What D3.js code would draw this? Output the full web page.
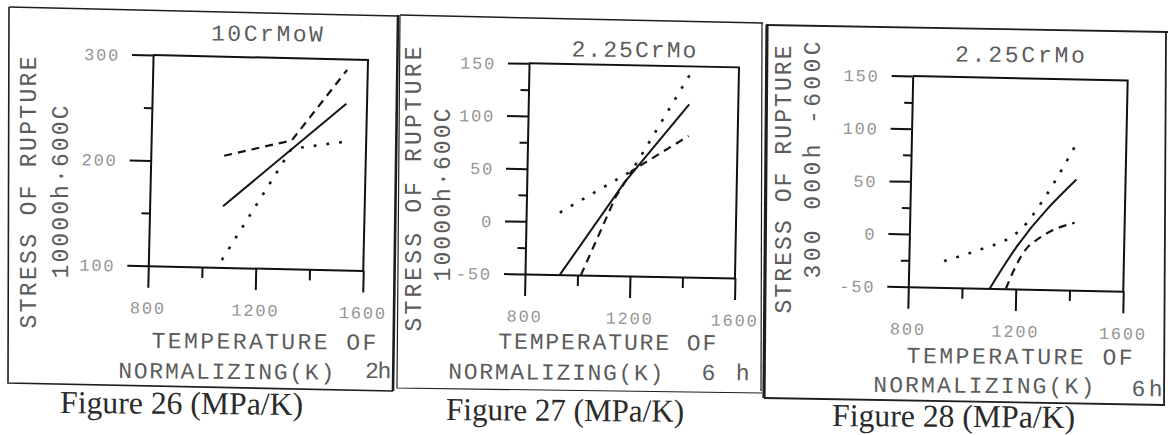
<!DOCTYPE html>
<html>
<head>
<meta charset="utf-8">
<script src="https://cdn.jsdelivr.net/npm/d3@7"></script>
<style>
  html, body { margin: 0; padding: 0; background: #fff; }
  svg { display: block; }
</style>
</head>
<body>
<svg id="chart" width="1168" height="435"></svg>
<script>
// Stress of rupture (MPa) against temperature of normalizing (K)

const xTickLabels = [800, 1200, 1600];
const xMinorTicks = [1000, 1400];

// Figure 26: 10CrMoW, 10000 h at 600 C, normalized 2 h
const fig26YTicks = [100, 200, 300];
const fig26YMinor = [150, 250];
const fig26SolidT = [1073, 1523];
const fig26SolidS = [158, 258];
const fig26DashT = [1073, 1323, 1523];
const fig26DashS = [206, 222, 290];
const fig26DotT = [1073, 1323, 1523];
const fig26DotS = [107, 214, 222];

// Figure 27: 2.25CrMo, 10000 h at 600 C, normalized 6 h
const fig27YTicks = [-50, 0, 50, 100, 150];
const fig27YMinor = [-25, 25, 75, 125];
const fig27SolidT = [933, 1173, 1413];
const fig27SolidS = [-50, 39, 114];
const fig27DashT = [1013, 1140, 1200, 1413];
const fig27DashS = [-50, 25, 50, 84];
const fig27DotT = [928, 1200, 1413];
const fig27DotS = [9, 50, 142];

// Figure 28: 2.25CrMo, 300 000 h at 600 C, normalized 6 h
const fig28YTicks = [-50, 0, 50, 100, 150];
const fig28YMinor = [-25, 25, 75, 125];
const fig28SolidT = [1103, 1201, 1417];
const fig28SolidS = [-50, -9.5, 55];
const fig28DashT = [1163, 1190, 1238, 1274, 1322, 1414];
const fig28DashS = [-50, -33, -11, -3, 5, 14];
const fig28DotT = [931, 1078, 1164, 1212, 1295, 1414];
const fig28DotS = [-25, -12, -3, 6, 35, 89];

// Texts
const figTitles = ["10CrMoW", "2.25CrMo", "2.25CrMo"];
const yTitleTop = "STRESS OF RUPTURE";
const yTitleSub = ["10000h\u00B7600C", "10000h\u00B7600C", "300 000h -600C"];
const xTitleTop = "TEMPERATURE OF";
const xTitleSub = "NORMALIZING(K)";
const durations = ["2h", "6 h", "6h"];
const captions = ["Figure 26 (MPa/K)", "Figure 27 (MPa/K)", "Figure 28 (MPa/K)"];

const mono = "'Liberation Mono', 'DejaVu Sans Mono', monospace";
const serif = "'Liberation Serif', 'DejaVu Serif', serif";
const textGrey = "#5c5c5c";

const svg = d3.select("#chart");

// Box frames around each figure (page pixels, slightly skewed sheet)
const frames = [
  { pts: [[9, 7], [397, 16]], w: 1.6 },
  { pts: [[9, 7], [8, 383], [393, 391]], w: 1.6 },
  { pts: [[398, 15], [393, 391]], w: 2.6 },
  { pts: [[400, 15], [763, 23]], w: 1.5 },
  { pts: [[400, 15], [397, 388], [762, 393]], w: 1.2 },
  { pts: [[762, 23], [761, 391]], w: 1.2 },
  { pts: [[766, 25], [1168, 32]], w: 1.8 },
  { pts: [[767, 25], [764, 398]], w: 3.2 },
  { pts: [[764, 398], [1165, 405]], w: 1.8 },
  { pts: [[1166, 32], [1164, 405]], w: 1.8 }
];
frames.forEach(f => {
  svg.append("path")
    .attr("d", d3.line()(f.pts))
    .attr("fill", "none")
    .attr("stroke", "#1e1e1e")
    .attr("stroke-width", f.w);
});

const lineStyles = {
  solid:  { dash: null,     w: 2.0 },
  dashed: { dash: "8,6",    w: 2.2 },
  dotted: { dash: "2.8,10", w: 2.6 }
};

const panels = [
  {
    origin: [148.3, 265.7], angle: 1.3, width: 215, height: 210.7,
    yDomain: [100, 300], yTicks: fig26YTicks, yMinor: fig26YMinor, curve: d3.curveLinear,
    series: [
      { style: "solid",  pts: d3.zip(fig26SolidT, fig26SolidS) },
      { style: "dashed", pts: d3.zip(fig26DashT, fig26DashS) },
      { style: "dotted", pts: d3.zip(fig26DotT, fig26DotS) }
    ],
    text: { title: [267, 33, 109], yt1: [28, 192.5, 269], yt2: [60, 192, 170],
            xt1: [151.7, 340, 221.6], xt2: [118.3, 370, 213], dur: [365, 370, 23.3], cap: [60, 413, 243] }
  },
  {
    origin: [525, 274], angle: 1.1, width: 210, height: 210.7,
    yDomain: [-50, 150], yTicks: fig27YTicks, yMinor: fig27YMinor, curve: d3.curveLinear,
    series: [
      { style: "solid",  pts: d3.zip(fig27SolidT, fig27SolidS) },
      { style: "dashed", pts: d3.zip(fig27DashT, fig27DashS) },
      { style: "dotted", pts: d3.zip(fig27DotT, fig27DotS) }
    ],
    text: { title: [634, 49, 122], yt1: [413.3, 189, 282], yt2: [441.7, 195, 170],
            xt1: [498.3, 340.7, 215], xt2: [448.3, 370.8, 212], dur: [701.7, 372, 45], cap: [446, 420, 238] }
  },
  {
    origin: [908.3, 286.7], angle: 1.2, width: 215, height: 210.7,
    yDomain: [-50, 150], yTicks: fig28YTicks, yMinor: fig28YMinor, curve: d3.curveMonotoneX,
    series: [
      { style: "solid",  pts: d3.zip(fig28SolidT, fig28SolidS) },
      { style: "dashed", pts: d3.zip(fig28DashT, fig28DashS) },
      { style: "dotted", pts: d3.zip(fig28DotT, fig28DotS) }
    ],
    text: { title: [1020, 54, 127], yt1: [783.3, 179.5, 265], yt2: [811.7, 160, 234],
            xt1: [906.7, 355, 223], xt2: [873.3, 384, 218], dur: [1131.7, 388, 28], cap: [832, 426, 243] }
  }
];

function styleAxis(sel) {
  sel.attr("font-family", mono).attr("font-size", 17);
  sel.selectAll("path.domain").attr("stroke", "#111").attr("stroke-width", 2);
  sel.selectAll(".tick line").attr("stroke", "#111").attr("stroke-width", 2);
  sel.selectAll(".tick text").attr("fill", "#959595").attr("letter-spacing", 1.8);
}

function hText(str, x, y, span, opts = {}) {
  return svg.append("text")
    .attr("x", x).attr("y", y)
    .attr("dy", opts.dy || "0.35em")
    .attr("text-anchor", opts.anchor || "start")
    .attr("font-family", opts.family || mono)
    .attr("font-size", opts.size || 23)
    .attr("fill", opts.fill || textGrey)
    .attr("textLength", span)
    .attr("lengthAdjust", opts.adjust || "spacing")
    .attr("transform", `rotate(0.45, ${x}, ${y})`)
    .text(str);
}

function vText(str, cx, cy, span) {
  svg.append("text")
    .attr("transform", `translate(${cx},${cy}) rotate(-90)`)
    .attr("dy", "0.35em")
    .attr("text-anchor", "middle")
    .attr("font-family", mono)
    .attr("font-size", 23)
    .attr("fill", textGrey)
    .attr("textLength", span)
    .attr("lengthAdjust", "spacing")
    .text(str);
}

panels.forEach((p, i) => {
  const g = svg.append("g")
    .attr("transform", `translate(${p.origin[0]},${p.origin[1]}) rotate(${p.angle})`);

  const x = d3.scaleLinear().domain([800, 1600]).range([0, p.width]);
  const y = d3.scaleLinear().domain(p.yDomain).range([0, -p.height]);

  // Plot box: top edge and right edge
  g.append("path")
    .attr("d", `M${x(800)},${y(p.yDomain[1])}H${x(1600)}V${y(p.yDomain[0])}`)
    .attr("fill", "none").attr("stroke", "#111").attr("stroke-width", 2);

  // Major and minor ticks on the temperature axis
  const xAxis = g.append("g")
    .call(d3.axisBottom(x).tickValues(xTickLabels).tickSize(22).tickSizeOuter(0)
      .tickFormat(d => String(d)));
  styleAxis(xAxis);
  xAxis.selectAll(".tick text").attr("y", 42).attr("dy", "0.35em");

  const xMinor = g.append("g")
    .call(d3.axisBottom(x).tickValues(xMinorTicks).tickSize(11).tickFormat(""));
  styleAxis(xMinor);
  xMinor.select("path.domain").remove();

  // Major and minor ticks on the stress axis
  const yAxis = g.append("g")
    .call(d3.axisLeft(y).tickValues(p.yTicks).tickSize(21).tickSizeOuter(0)
      .tickFormat(d => String(d)));
  styleAxis(yAxis);
  yAxis.selectAll(".tick text").attr("x", -33).attr("dy", "0.35em");

  const yMinor = g.append("g")
    .call(d3.axisLeft(y).tickValues(p.yMinor).tickSize(8).tickFormat(""));
  styleAxis(yMinor);
  yMinor.select("path.domain").remove();

  // Curves
  const line = d3.line().x(d => x(d[0])).y(d => y(d[1])).curve(p.curve);
  p.series.forEach(s => {
    const st = lineStyles[s.style];
    g.append("path")
      .attr("d", line(s.pts))
      .attr("fill", "none")
      .attr("stroke", "#151515")
      .attr("stroke-width", st.w)
      .attr("stroke-dasharray", st.dash);
  });

  // Labels around the plot
  const t = p.text;
  hText(figTitles[i], t.title[0], t.title[1], t.title[2] + 3, { anchor: "middle" });
  vText(yTitleTop, t.yt1[0], t.yt1[1], t.yt1[2] + 3);
  vText(yTitleSub[i], t.yt2[0], t.yt2[1], t.yt2[2] + 3);
  hText(xTitleTop, t.xt1[0], t.xt1[1], t.xt1[2] + 3);
  hText(xTitleSub, t.xt2[0], t.xt2[1], t.xt2[2] + 3);
  hText(durations[i], t.dur[0], t.dur[1], t.dur[2] + 3);
  hText(captions[i], t.cap[0], t.cap[1], t.cap[2],
    { family: serif, size: 32, fill: "#2b2b2b", dy: "0", adjust: "spacingAndGlyphs" });
});
</script>
</body>
</html>
